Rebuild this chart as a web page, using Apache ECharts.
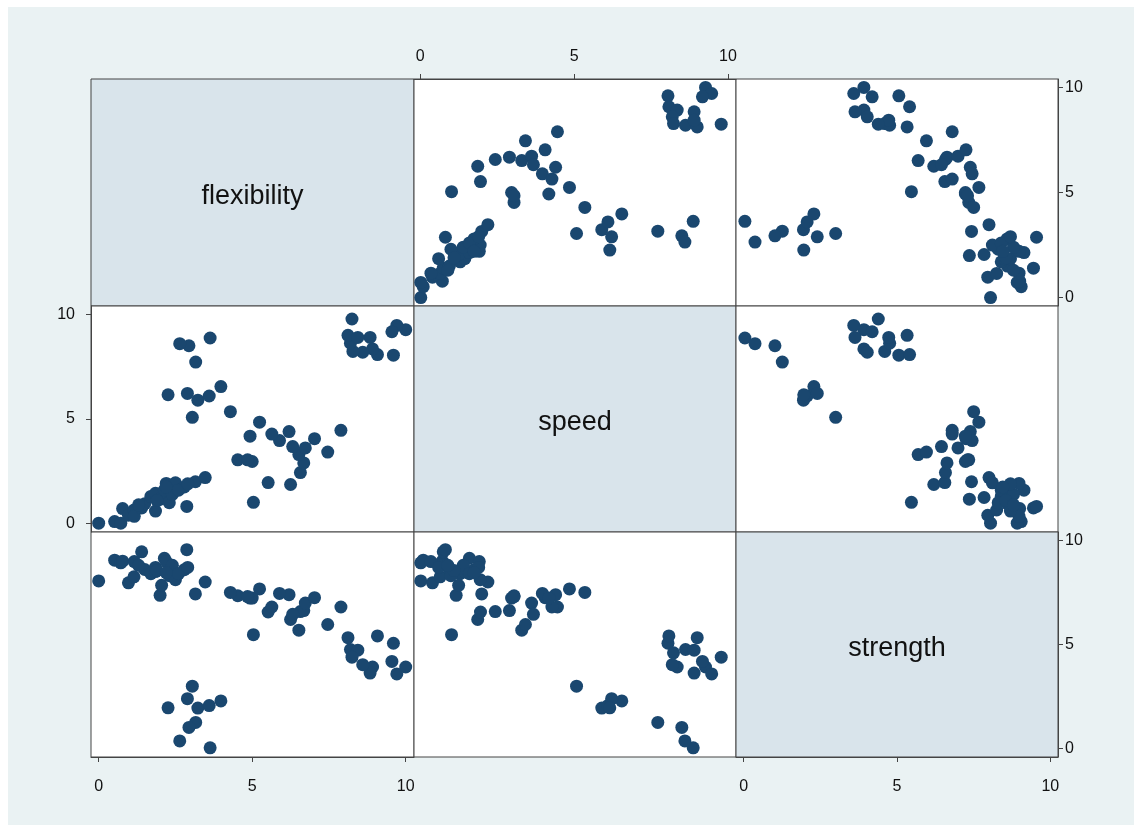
<!DOCTYPE html>
<html>
<head>
<meta charset="utf-8">
<script src="https://cdn.jsdelivr.net/npm/echarts@6/dist/echarts.min.js"></script>
<style>html,body{margin:0;padding:0;background:#fff}#c{width:1134px;height:825px}</style>
</head>
<body>
<div id="c"></div>
<script>
// Variables (one observation per index)
const varNames = ['flexibility', 'speed', 'strength'];
const tickValues = [0, 5, 10];

const flexibility = [
  10.0, 9.71, 9.55, 9.6, 9.08, 8.92, 8.84, 8.6, 8.28, 8.2, 8.12, 8.44, 8.25,
  5.04, 6.25, 5.52, 6.57, 6.68, 6.52, 7.46, 6.73, 6.32, 7.03, 7.89, 6.2, 5.89, 5.64, 4.93, 5.24, 5.0, 4.53, 4.85, 4.29,
  3.05, 3.23, 3.6, 3.98, 2.89, 2.26, 3.16, 3.63, 2.94, 2.64,
  0.0, 0.52, 0.72, 0.78, 0.97, 1.15, 1.16, 1.4, 1.5, 1.7, 1.85, 1.85, 2.0, 2.05, 2.14, 2.87, 2.2, 3.15, 3.47, 2.3, 2.5, 2.79, 2.4, 2.6, 1.9, 2.9, 1.3, 2.2
];
const speed = [
  9.27, 9.47, 9.17, 8.05, 8.08, 8.35, 8.9, 8.19, 8.23, 8.62, 9.0, 8.9, 9.78,
  1.02, 1.87, 1.96, 2.44, 2.9, 3.3, 3.42, 3.62, 3.68, 4.06, 4.46, 4.4, 3.97, 4.28, 4.18, 4.85, 2.97, 3.05, 3.05, 5.35,
  5.08, 5.9, 6.1, 6.55, 6.22, 6.16, 7.72, 8.87, 8.5, 8.6,
  0.02, 0.1, 0.02, 0.72, 0.4, 0.65, 0.35, 0.75, 0.95, 1.3, 0.6, 1.45, 1.17, 1.25, 1.6, 0.82, 1.92, 2.0, 2.2, 1.0, 1.95, 1.75, 1.4, 1.6, 1.1, 1.9, 0.9, 1.75
];
const strength = [
  3.92, 3.59, 4.19, 5.06, 5.41, 3.92, 3.63, 4.03, 4.6, 4.76, 5.33, 4.73, 4.39,
  5.47, 6.2, 6.56, 6.58, 6.63, 5.69, 5.96, 6.99, 6.45, 7.25, 6.8, 7.39, 7.45, 6.8, 7.23, 7.67, 7.23, 7.34, 7.3, 7.5,
  3.0, 1.95, 2.07, 2.29, 2.4, 1.96, 1.26, 0.04, 1.02, 0.37,
  8.05, 9.05, 8.92, 9.0, 7.96, 8.25, 8.98, 9.45, 8.6, 8.4, 8.7, 8.5, 7.36, 7.84, 9.14, 9.55, 8.98, 7.43, 8.0, 8.3, 8.11, 8.59, 8.8, 8.4, 8.55, 8.7, 8.8, 8.45
];
const vars = [flexibility, speed, strength];

// Layout
const colLeft = [91, 414, 736];
const colWidth = [323, 322, 322];
const rowTop = [79, 306, 532];
const rowHeight = [227, 226, 225];
const xMin = [-0.25, -0.2, -0.25];
const xMax = [10.27, 10.26, 10.25];
const yMin = -0.4, yMax = 10.4;

const navy = '#1a476f';
const labelFont = { fontFamily: 'Liberation Sans', fontSize: 16, color: '#111' };

const grids = [], xAxes = [], yAxes = [], series = [], graphics = [];

// which axes visible: key "r,c"
const showX = { '0,1': 'top', '2,0': 'bottom', '2,2': 'bottom' };
const showY = { '0,2': 'right', '1,0': 'left', '2,2': 'right' };
const marginFor = { top: 14, bottom: 22, left: 16, right: 7 };

function axisCfg(pos, min, max, isX) {
  const visible = !!pos;
  return {
    type: 'value',
    min: min, max: max,
    show: visible,
    position: pos || (isX ? 'bottom' : 'left'),
    axisLine: { show: visible, onZero: false, lineStyle: { color: '#444', width: 1 } },
    axisTick: { show: visible, length: 5, inside: false, customValues: tickValues, lineStyle: { color: '#444' } },
    axisLabel: Object.assign({ show: visible, customValues: tickValues, margin: pos ? marginFor[pos] : 8, formatter: v => String(v) }, labelFont),
    splitLine: { show: false }
  };
}

let idx = 0;
for (let r = 0; r < 3; r++) {
  for (let c = 0; c < 3; c++) {
    const diag = r === c;
    grids.push({
      left: colLeft[c], top: rowTop[r], width: colWidth[c], height: rowHeight[r],
      show: true,
      backgroundColor: diag ? '#d9e4eb' : '#ffffff',
      borderColor: '#444', borderWidth: 1
    });
    xAxes.push(Object.assign(axisCfg(showX[r + ',' + c], xMin[c], xMax[c], true), { gridIndex: idx }));
    yAxes.push(Object.assign(axisCfg(showY[r + ',' + c], yMin, yMax, false), { gridIndex: idx }));
    if (!diag) {
      series.push({
        type: 'scatter',
        xAxisIndex: idx, yAxisIndex: idx,
        data: vars[c].map((v, k) => [v, vars[r][k]]),
        symbol: 'circle', symbolSize: 13,
        itemStyle: { color: navy, opacity: 1 },
        silent: true
      });
    } else {
      graphics.push({
        type: 'text',
        x: colLeft[c] + colWidth[c] / 2, y: rowTop[r] + rowHeight[r] / 2 + 4,
        style: { text: varNames[r], font: '27px "Liberation Sans"', fill: '#111', textAlign: 'center', textVerticalAlign: 'middle' },
        z: 100
      });
    }
    idx++;
  }
}
// white margins at the top and left edge of the image
graphics.push({ type: 'rect', shape: { x: 0, y: 0, width: 1134, height: 7 }, style: { fill: '#fff' } });
graphics.push({ type: 'rect', shape: { x: 0, y: 0, width: 8, height: 825 }, style: { fill: '#fff' } });

const chart = echarts.init(document.getElementById('c'), null, { renderer: 'canvas' });
chart.setOption({
  backgroundColor: '#eaf2f3',
  animation: false,
  grid: grids,
  xAxis: xAxes,
  yAxis: yAxes,
  series: series,
  graphic: graphics
});
</script>
</body>
</html>
